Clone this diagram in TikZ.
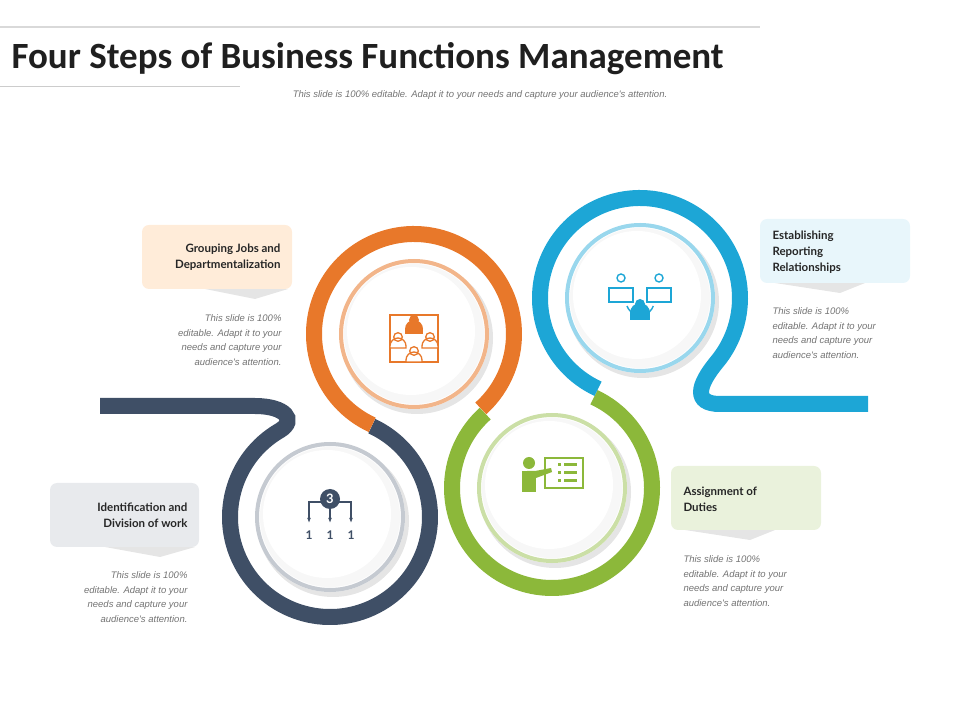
\documentclass[tikz,border=0pt]{standalone}
\usepackage{fontspec}
\usetikzlibrary{calc,arrows.meta}
\setmainfont{Lato}
\newfontfamily\titlefont{Carlito}
\newfontfamily\descfont{Liberation Sans}
\definecolor{navy}{HTML}{3F4F66}
\definecolor{orng}{HTML}{E8782A}
\definecolor{grn}{HTML}{8CB83A}
\definecolor{blu}{HTML}{1DA6D6}
\begin{document}
\begin{tikzpicture}[x=1pt,y=1pt,
  band/.style={line width=16pt},
  lbl/.style={font=\fontsize{11.5}{16}\selectfont\bfseries, text=black!85},
  desc/.style={font=\descfont\itshape\fontsize{9.5}{14.5}\selectfont, text=black!55},
  boxs/.style={rounded corners=7pt},
  shad/.style={fill=black!10}]
\useasboundingbox (0,0) rectangle (960,720);
% title
\draw[black!15, line width=1.2pt] (0,693) -- (760,693);
\draw[black!20, line width=1pt] (0,633) -- (240,633);
\node[anchor=west, font=\titlefont\bfseries\fontsize{37}{40}\selectfont, text=black!88] (title) at (8,661) {Four Steps of Business Functions Management};
\node[font=\descfont\itshape\fontsize{9.5}{10}\selectfont, text=black!55] (sub) at (480,625) {This slide is 100\% editable. Adapt it to your needs and capture your audience's attention.};
% centers
\coordinate (cn) at (330,203);
\coordinate (co) at (414,386);
\coordinate (cg) at (552,232);
\coordinate (cb) at (640,422);
% bands
\draw[band, navy] (100,314) -- (255,314) .. controls (285,314) and (297,300) .. ($(cn)+(120:100)$) arc[start angle=120, end angle=425.3, radius=100];
\draw[band, orng] ($(co)+(245.3:100)$) arc[start angle=245.3, end angle=-48.1, radius=100];
\draw[band, grn] ($(cg)+(131.9:100)$) arc[start angle=131.9, end angle=425.2, radius=100];
\draw[band, blu] ($(cb)+(245.2:100)$) arc[start angle=245.2, end angle=-40, radius=100] .. controls +(-19,-23) and (693,316) .. (720,316) -- (868,316);
% inner discs
\foreach \c/\col in {cn/navy!30, co/orng!55, cg/grn!45, cb/blu!45}{
  \fill[black!10] ($(\c)+(3,-4)$) circle (76);
  \fill[white] (\c) circle (75);
  \draw[\col, line width=4pt] (\c) circle (73);
  \fill[black!3] (\c) circle (70);
  \fill[white] ($(\c)+(-3,3)$) circle (64);
}
% boxes
\fill[shad] (205,431) -- (288,431) -- (255,421) -- cycle;
\fill[boxs, fill=orange!15!white] (142,431) rectangle (292,495);
\node[lbl, align=right, anchor=east] (g) at (284,463) {Grouping Jobs and\\Departmentalization};
\node[desc, align=right, anchor=east] (gd) at (285,380) {This slide is 100\%\\editable. Adapt it to your\\needs and capture your\\audience's attention.};
\fill[shad] (775,437) -- (865,437) -- (840,427) -- cycle;
\fill[boxs, fill=blu!10] (760,437) rectangle (910,501);
\node[lbl, align=left, anchor=west] (e) at (769,468) {Establishing\\Reporting\\Relationships};
\node[desc, align=left, anchor=west] (ed) at (769,387) {This slide is 100\%\\editable. Adapt it to your\\needs and capture your\\audience's attention.};
\fill[shad] (685,190) -- (775,190) -- (750,180) -- cycle;
\fill[boxs, fill=grn!18] (671,190) rectangle (821,254);
\node[lbl, align=left, anchor=west] (a) at (680,221) {Assignment of\\Duties};
\node[desc, align=left, anchor=west] (ad) at (680,139) {This slide is 100\%\\editable. Adapt it to your\\needs and capture your\\audience's attention.};
\fill[shad] (105,173) -- (195,173) -- (160,163) -- cycle;
\fill[boxs, fill=navy!12] (50,173) rectangle (199,237);
\node[lbl, align=right, anchor=east] (i) at (191,205) {Identification and\\Division of work};
\node[desc, align=right, anchor=east] (id) at (191,123) {This slide is 100\%\\editable. Adapt it to your\\needs and capture your\\audience's attention.};
% navy icon
\draw[navy, line width=1.6pt, -{Latex[length=5pt]}] (321,218) -- (309,218) -- (309,197);
\draw[navy, line width=1.6pt, -{Latex[length=5pt]}] (339,218) -- (351,218) -- (351,197);
\draw[navy, line width=1.6pt, -{Latex[length=5pt]}] (330,212) -- (330,197);
\fill[navy] (330,221) circle (10);
\node[text=white, font=\bfseries\fontsize{13}{13}\selectfont] (three) at (330,221) {3};
\foreach \x in {309,330,351}{\node[text=navy, font=\bfseries\fontsize{12}{12}\selectfont] at (\x,185) {1};}
% orange icon
\draw[orng, line width=1.5pt] (390,358) rectangle (438,405);
\fill[orng] (414,400) circle (5);
\fill[orng] (405,386) rectangle (423,391);
\fill[orng] (405,391) arc[start angle=180,end angle=0,radius=9];
\foreach \px/\py in {398/372,430/372,414/358}{
  \begin{scope}[shift={(\px,\py)}]
  \fill[white] (0,11) circle (5);
  \draw[orng, line width=1.3pt] (0,11) circle (4.3);
  \fill[white] (-8,0) rectangle (8,5);
  \draw[orng, line width=1.3pt] (-8,0) -- (-8,2) arc[start angle=180,end angle=0,radius=8] -- (8,0) -- cycle;
  \end{scope}}
% blue icon
\foreach \x in {621,659}{
  \draw[blu, line width=1.4pt] (\x,442) circle (4);
  \draw[blu, line width=1.4pt] ({\x-12},418) rectangle ({\x+12},432);
}
\draw[blu, line width=1.4pt] (627,414) arc[start angle=200,end angle=340,radius=14];
\fill[blu] (640,416) circle (5);
\fill[blu] (630,400) rectangle (650,407);
\fill[blu] (630,407) arc[start angle=180,end angle=0,radius=10];
% green icon
\draw[grn, line width=2pt] (545,232) rectangle (583,262);
\foreach \yy in {255,247,239}{\fill[grn] (558,{\yy-1.5}) rectangle (561,{\yy+1.5}); \fill[grn] (564,{\yy-1.5}) rectangle (577,{\yy+1.5});}
\fill[grn] (529,257) circle (6);
\fill[grn] (522,228) rectangle (536,249);
\fill[grn] (522,244) arc[start angle=180,end angle=90,radius=5] -- (535,249) -- (551,252) -- (552,248) -- (536,242) -- cycle;
\end{tikzpicture}
\end{document}
